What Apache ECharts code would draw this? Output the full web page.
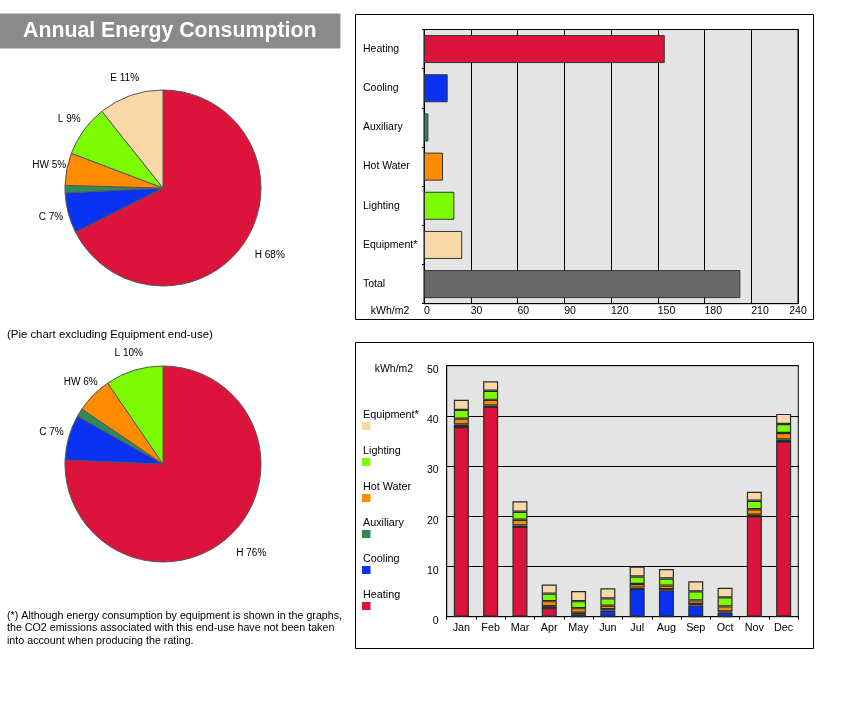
<!DOCTYPE html>
<html><head><meta charset="utf-8">
<script src="https://cdn.jsdelivr.net/npm/echarts@6/dist/echarts.min.js"></script>
<style>html,body{margin:0;padding:0;background:#fff}#c{width:859px;height:702px}</style>
</head><body><div id="c"></div>
<script>
const FONT = 'Arial, "Liberation Sans", sans-serif';

// ---- data ----
const endUses = ['Heating', 'Cooling', 'Auxiliary', 'Hot Water', 'Lighting', 'Equipment*'];
const endUseShort = ['H', 'C', 'A', 'HW', 'L', 'E'];
const endUseColors = ['#dc143c', '#0a32f2', '#2e8b57', '#ff8c00', '#7cfc00', '#f9d8a8'];
const totalName = 'Total';
const totalColor = '#696969';
const annualValues = [154.5, 15.2, 2.8, 12.2, 19.5, 24.5];
const annualTotal = 203;
const annualAxis = { min: 0, max: 240, interval: 30 };

const months = ['Jan', 'Feb', 'Mar', 'Apr', 'May', 'Jun', 'Jul', 'Aug', 'Sep', 'Oct', 'Nov', 'Dec'];
const heatingM   = [37.8, 41.8, 17.9, 1.7, 0,   0,    0,   0,   0,    0,    20.0, 34.9];
const coolingM   = [0,    0,    0,    0,   0.5, 1.2,  5.5, 5.2, 2.25, 0.85, 0,    0];
const auxiliaryM = [0.5,  0.3,  0.3,  0.4, 0.3, 0.3,  0.3, 0.3, 0.3,  0.2,  0.3,  0.4];
const hotWaterM  = [1.15, 1.1,  1.1,  1.0, 0.9, 0.7,  0.7, 0.7, 0.7,  1.0,  1.1,  1.3];
const lightingM  = [1.75, 1.8,  1.6,  1.5, 1.4, 1.45, 1.5, 1.4, 1.8,  1.8,  1.7,  1.8];
const equipmentM = [2.0,  1.9,  2.1,  1.8, 2.0, 2.0,  2.0, 1.9, 2.0,  1.9,  1.8,  2.0];
const monthlySeries = [heatingM, coolingM, auxiliaryM, hotWaterM, lightingM, equipmentM];
const monthlyAxis = { min: 0, max: 50, interval: 10 };

const footnote = '(*) Although energy consumption by equipment is shown in the graphs,\nthe CO2 emissions associated with this end-use have not been taken\ninto account when producing the rating.';

// ---- chart ----
const chart = echarts.init(document.getElementById('c'), null, { renderer: 'canvas' });

function pieData(n) {
  return endUses.slice(0, n).map((name, i) => ({
    name: name,
    value: annualValues[i],
    itemStyle: { color: endUseColors[i] },
    label: { show: name !== 'Auxiliary' }
  }));
}
function pieSeries(center, n) {
  return {
    type: 'pie', center: center, radius: 98, startAngle: 90, clockwise: true,
    avoidLabelOverlap: false, animation: false,
    data: pieData(n),
    itemStyle: { borderColor: '#555', borderWidth: 1 },
    label: {
      position: 'outside', distanceToLabelLine: 0,
      fontSize: 10, color: '#000', fontFamily: FONT,
      formatter: p => endUseShort[p.dataIndex] + ' ' + Math.round(p.percent) + '%'
    },
    labelLine: { show: false, length: 18, length2: 0 },
    labelLayout: p => {
      const right = p.labelRect.x > center[0];
      const below = p.labelRect.y > center[1];
      return { align: 'center', verticalAlign: 'middle', dx: right && below ? 8 : 0, dy: right && below ? 6 : 0 };
    },
    emphasis: { disabled: true }
  };
}

const barCats = endUses.concat([totalName]);
const barVals = annualValues.concat([annualTotal]);
const barColors = endUseColors.concat([totalColor]);

// legend (drawn as text + swatches, top item = last series)
const legendItems = [];
endUses.slice().reverse().forEach((name, k) => {
  const y = 409 + k * 36;
  legendItems.push({ type: 'text', left: 363, top: y + 0.5, style: { text: name, fill: '#000', font: '10.8px ' + FONT } });
  const ci = endUses.indexOf(name);
  legendItems.push({ type: 'rect', shape: { x: 362, y: y + 13, width: 8.5, height: 8 }, style: { fill: endUseColors[ci] } });
});

const option = {
  backgroundColor: '#fff',
  animation: false,
  textStyle: { fontFamily: FONT },
  title: [
    { text: 'Annual Energy Consumption', left: 0, top: 14, backgroundColor: '#8a8a8a', padding: [7, 24, 7, 23],
      textStyle: { color: '#fff', fontSize: 21.3, fontWeight: 'bold', fontFamily: FONT, lineHeight: 20 } },
    { text: '(Pie chart excluding Equipment end-use)', left: 7, top: 329, padding: 0,
      textStyle: { color: '#000', fontSize: 11.4, fontWeight: 'normal', fontFamily: FONT, lineHeight: 12 } },
    { text: footnote, left: 7, top: 610, padding: 0,
      textStyle: { color: '#000', fontSize: 10.7, fontWeight: 'normal', fontFamily: FONT, lineHeight: 12.3 } }
  ],
  graphic: [
    { type: 'rect', shape: { x: 355.5, y: 14.5, width: 458, height: 305 }, style: { fill: 'none', stroke: '#000', lineWidth: 1 }, z: 100 },
    { type: 'rect', shape: { x: 355.5, y: 342.5, width: 458, height: 306 }, style: { fill: 'none', stroke: '#000', lineWidth: 1 }, z: 100 }
  ].concat(legendItems),
  grid: [
    { left: 424, top: 29.5, width: 374, height: 274.2, show: true, backgroundColor: '#e4e4e4', borderColor: '#000', borderWidth: 1 },
    { left: 446.7, top: 365.7, width: 351.6, height: 251, show: true, backgroundColor: '#e4e4e4', borderColor: '#000', borderWidth: 1 }
  ],
  xAxis: [
    { gridIndex: 0, type: 'value', min: annualAxis.min, max: annualAxis.max, interval: annualAxis.interval,
      axisLine: { show: true, lineStyle: { color: '#000' } }, axisTick: { show: false },
      splitLine: { show: true, lineStyle: { color: '#000', width: 1 } },
      axisLabel: { color: '#000', fontSize: 10.5, fontFamily: FONT, margin: 2, align: 'left', alignMaxLabel: 'center' },
      name: 'kWh/m2', nameLocation: 'start', nameGap: 14.7,
      nameTextStyle: { color: '#000', fontSize: 10.5, fontFamily: FONT, align: 'right', verticalAlign: 'top', padding: [2, 0, 0, 0] } },
    { gridIndex: 1, type: 'category', data: months,
      axisLine: { show: true, lineStyle: { color: '#000' } },
      axisTick: { show: true, length: 3, lineStyle: { color: '#000' } },
      axisLabel: { color: '#000', fontSize: 10.8, fontFamily: FONT, margin: 6 } }
  ],
  yAxis: [
    { gridIndex: 0, type: 'category', data: barCats, inverse: true,
      axisLine: { show: true, lineStyle: { color: '#000' } },
      axisTick: { show: true, length: 2, lineStyle: { color: '#000' } },
      axisLabel: { color: '#000', fontSize: 10.5, fontFamily: FONT, align: 'left', margin: 61 } },
    { gridIndex: 1, type: 'value', min: monthlyAxis.min, max: monthlyAxis.max, interval: monthlyAxis.interval,
      axisLine: { show: true, lineStyle: { color: '#000' } }, axisTick: { show: false },
      splitLine: { show: true, lineStyle: { color: '#000', width: 1 } },
      axisLabel: { color: '#000', fontSize: 10.5, fontFamily: FONT, margin: 8, verticalAlign: 'top', lineHeight: 9 },
      name: 'kWh/m2', nameLocation: 'end', nameGap: -3.5,
      nameTextStyle: { color: '#000', fontSize: 10.5, fontFamily: FONT, align: 'right', verticalAlign: 'middle', padding: [0, 33.5, 0, 0] } }
  ],
  series: [
    pieSeries([163, 188], 6),
    pieSeries([163, 464], 5),
    { type: 'bar', xAxisIndex: 0, yAxisIndex: 0, barWidth: 28,
      data: barVals.map((v, i) => ({ value: v, itemStyle: { color: barColors[i] } })),
      itemStyle: { borderColor: '#333', borderWidth: 1 }, emphasis: { disabled: true } }
  ].concat(endUses.map((name, i) => ({
    type: 'bar', name: name, xAxisIndex: 1, yAxisIndex: 1, stack: 'monthly', barWidth: 15,
    data: monthlySeries[i],
    itemStyle: { color: endUseColors[i], borderColor: '#2a2a2a', borderWidth: 1.2 },
    emphasis: { disabled: true }
  })))
};
chart.setOption(option);
</script>
</body></html>
